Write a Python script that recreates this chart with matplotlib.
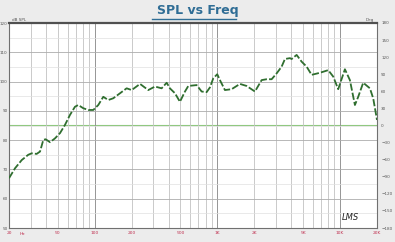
import matplotlib.pyplot as plt
import numpy as np
from matplotlib.ticker import FixedLocator, NullFormatter

# SPL response
freq = [20, 22.4, 25.4, 28.7, 30.6, 33.6, 35.8, 38.1, 39.8, 43.2, 47.4, 52.1,
        57.2, 62.8, 69.0, 73.4, 80.6, 88.6, 97.3, 106.9, 117.4, 128.9, 141.6,
        160.6, 182, 200, 234, 273, 310, 351, 386, 410, 451, 495, 544, 579,
        677, 744, 817, 869, 925, 997, 1063, 1152, 1306, 1526, 1731, 2023,
        2294, 2520, 2768, 3040, 3339, 3552, 3902, 4028, 4425, 4859, 5337,
        5862, 6849, 8005, 8791, 9656, 10948, 12027, 13212, 14057, 15436,
        17504, 18621, 20000]
spl = [67.0, 70.4, 73.2, 75.0, 75.5, 75.3, 76.1, 80.1, 80.3, 79.3, 80.6, 82.4,
       85.2, 88.6, 91.4, 92.0, 90.9, 90.3, 90.3, 92.0, 94.8, 93.7, 94.3,
       96.0, 97.7, 97.1, 99.2, 97.1, 98.3, 97.7, 99.6, 97.7, 96.0, 93.1, 96.6,
       98.5, 98.8, 96.6, 96.4, 98.0, 101.1, 102.5, 100.0, 97.1, 97.4, 99.2,
       98.5, 96.6, 100.5, 100.8, 100.8, 102.8, 105.1, 107.7, 108.0, 107.7,
       109.1, 106.8, 105.1, 102.3, 103.0, 103.9, 101.7, 97.4, 104.2, 100.5,
       92.0, 94.8, 99.6, 97.7, 94.3, 86.9]
phase_freq = [20, 20000]
phase = [0, 0]

x_ticks = [20, 50, 100, 200, 500, 1000, 2000, 5000, 10000, 20000]
x_labels = ['20', '50', '100', '200', '500', '1K', '2K', '5K', '10K', '20K']
db_ticks = [50, 60, 70, 80, 90, 100, 110, 120]
deg_ticks = [180, 150, 120, 90, 60, 30, 0, -30, -60, -90, -120, -150, -180]

fig = plt.figure(figsize=(3.95, 2.42), dpi=100, facecolor='#ececec')
ax = fig.add_axes([9/395, 14/242, 368/395, 205/242])
ax.set_facecolor('white')

ax.set_xscale('log')
ax.set_xlim(20, 20000)
ax.set_ylim(50, 120)

# grid
minor_f = [m * d for d in [10, 100, 1000, 10000] for m in range(2, 10)]
minor_f = [f for f in minor_f if 20 <= f <= 20000]
for f in minor_f:
    ax.axvline(f, color='#c2c2c2', lw=0.6, zorder=0)
for f in [100, 1000, 10000]:
    ax.axvline(f, color='#959595', lw=0.7, zorder=0)
for y in np.arange(55, 120, 10):
    ax.axhline(y, color='#e0e0e0', lw=0.5, zorder=0)
for y in db_ticks[1:-1]:
    ax.axhline(y, color='#acacac', lw=0.6, zorder=0)

ax.xaxis.set_major_locator(FixedLocator(x_ticks))
ax.xaxis.set_minor_formatter(NullFormatter())
ax.set_xticks(x_ticks)
ax.set_xticklabels(x_labels)
ax.set_yticks(db_ticks)
ax.tick_params(axis='x', which='both', length=0, labelsize=3.2, colors='#c03050', pad=2.5)
ax.tick_params(axis='y', length=0, labelsize=3, colors='#555555', pad=1)

for s in ['left', 'bottom', 'right']:
    ax.spines[s].set_color('#707070')
    ax.spines[s].set_linewidth(0.8)
ax.spines['top'].set_color('#505050')
ax.spines['top'].set_linewidth(1.6)

# phase on right axis
ax2 = ax.twinx()
ax2.set_ylim(-180, 180)
ax2.set_yticks(deg_ticks)
ax2.tick_params(axis='y', length=0, labelsize=3, colors='#555555', pad=3)
for s in ax2.spines.values():
    s.set_visible(False)
ax2.plot(phase_freq, phase, color='#90c880', lw=0.8, zorder=2)

# SPL drawn on the dB axis
ax.plot(freq, spl, color='#2f6e2f', lw=1.3, linestyle=(0, (4, 1.2)), zorder=3)
ax.set_zorder(ax2.get_zorder() + 1)
ax.patch.set_visible(False)
ax2.set_facecolor('white')
ax2.patch.set_visible(True)

fig.text(0.03, 0.915, 'dB SPL', fontsize=3, color='#555555')
fig.text(0.925, 0.915, 'Deg', fontsize=3, color='#555555')
fig.text(20/395, 1 - 232/242, 'Hz', fontsize=3.2, color='#c03050', va='top')

fig.text(0.5, 0.955, 'SPL vs Freq', ha='center', va='center', fontsize=9,
         fontweight='bold', color='#2f6d95')
fig.add_artist(plt.Line2D([152/395, 236/395], [1 - 19/242, 1 - 19/242],
                          color='#2f6d95', lw=1.0))

fig.text(350/395, 1 - 217/242, 'LMS', fontsize=6, style='italic',
         color='#222222', ha='center', va='center')

fig.savefig('out.png', dpi=100, facecolor=fig.get_facecolor())
